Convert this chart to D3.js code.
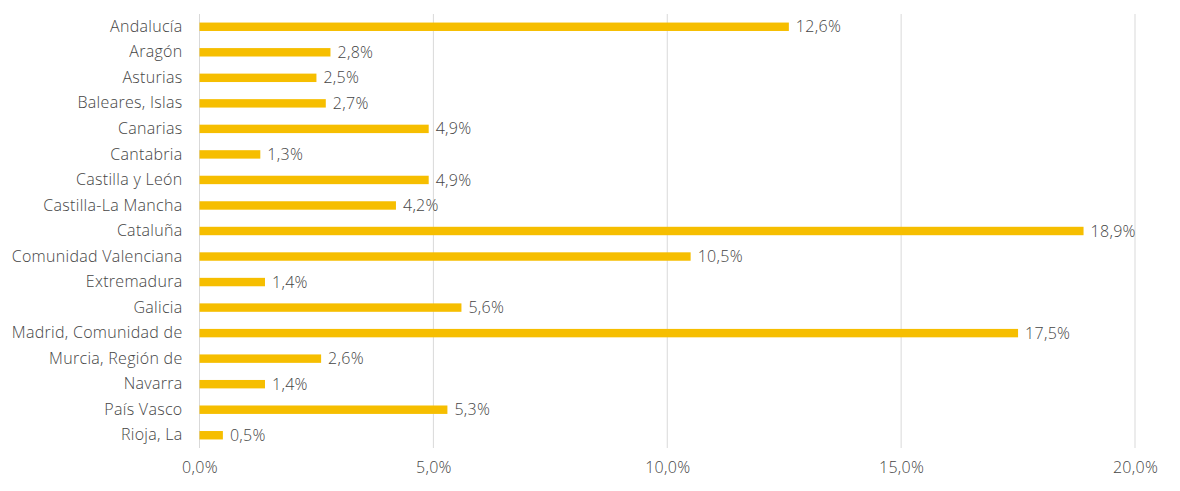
<!DOCTYPE html>
<html>
<head>
<meta charset="utf-8">
<script src="https://cdn.jsdelivr.net/npm/d3@7"></script>
<style>
  body { margin: 0; background: #fff; }
  text { font-family: "Open Sans", sans-serif; font-weight: 300; fill: #454545; letter-spacing: 0.3px; }
</style>
</head>
<body>
<div id="chart"></div>
<script>
const regions = ["Andalucía", "Aragón", "Asturias", "Baleares, Islas", "Canarias", "Cantabria",
  "Castilla y León", "Castilla-La Mancha", "Cataluña", "Comunidad Valenciana", "Extremadura",
  "Galicia", "Madrid, Comunidad de", "Murcia, Región de", "Navarra", "País Vasco", "Rioja, La"];
const shares = [12.6, 2.8, 2.5, 2.7, 4.9, 1.3, 4.9, 4.2, 18.9, 10.5, 1.4, 5.6, 17.5, 2.6, 1.4, 5.3, 0.5];
const xTicks = [0, 5, 10, 15, 20];

const data = regions.map((r, i) => ({ region: r, value: shares[i] }));
const fmt = v => v.toFixed(1).replace(".", ",") + "%";

const W = 1180, H = 491;
const margin = { top: 14, right: 45, bottom: 43, left: 199.5 };
const width = W - margin.left - margin.right;
const height = H - margin.top - margin.bottom;

const svg = d3.select("#chart").append("svg")
  .attr("width", W).attr("height", H)
  .append("g")
  .attr("transform", `translate(${margin.left},${margin.top})`);

const x = d3.scaleLinear().domain([0, 20]).range([0, width]);
const y = d3.scaleBand().domain(regions).range([0, height]).paddingInner(0.67).paddingOuter(0.335);

// Gridlines
svg.append("g").selectAll("line")
  .data(xTicks)
  .join("line")
  .attr("x1", d => x(d)).attr("x2", d => x(d))
  .attr("y1", 0).attr("y2", height)
  .attr("stroke", "#d9d9d9").attr("stroke-width", 1);

// X axis labels
const xAxis = svg.append("g")
  .attr("transform", `translate(0,${height})`)
  .call(d3.axisBottom(x).tickValues(xTicks).tickFormat(fmt).tickSize(0).tickPadding(14));
xAxis.select(".domain").remove();
xAxis.selectAll("text").style("font-size", "16px").style("font-family", null);

// Y axis labels
const yAxis = svg.append("g")
  .call(d3.axisLeft(y).tickSize(0).tickPadding(17));
yAxis.select(".domain").remove();
yAxis.selectAll("text").style("font-size", "16px").style("font-family", null);

// Bars
svg.selectAll("rect.bar")
  .data(data)
  .join("rect")
  .attr("class", "bar")
  .attr("x", 0)
  .attr("y", d => y(d.region))
  .attr("width", d => x(d.value))
  .attr("height", y.bandwidth())
  .attr("fill", "#f6be00");

// Value labels
svg.selectAll("text.val")
  .data(data)
  .join("text")
  .attr("class", "val")
  .attr("x", d => x(d.value) + 7)
  .attr("y", d => y(d.region) + y.bandwidth() / 2)
  .attr("dy", "0.35em")
  .style("font-size", "16px")
  .text(d => fmt(d.value));
</script>
</body>
</html>
